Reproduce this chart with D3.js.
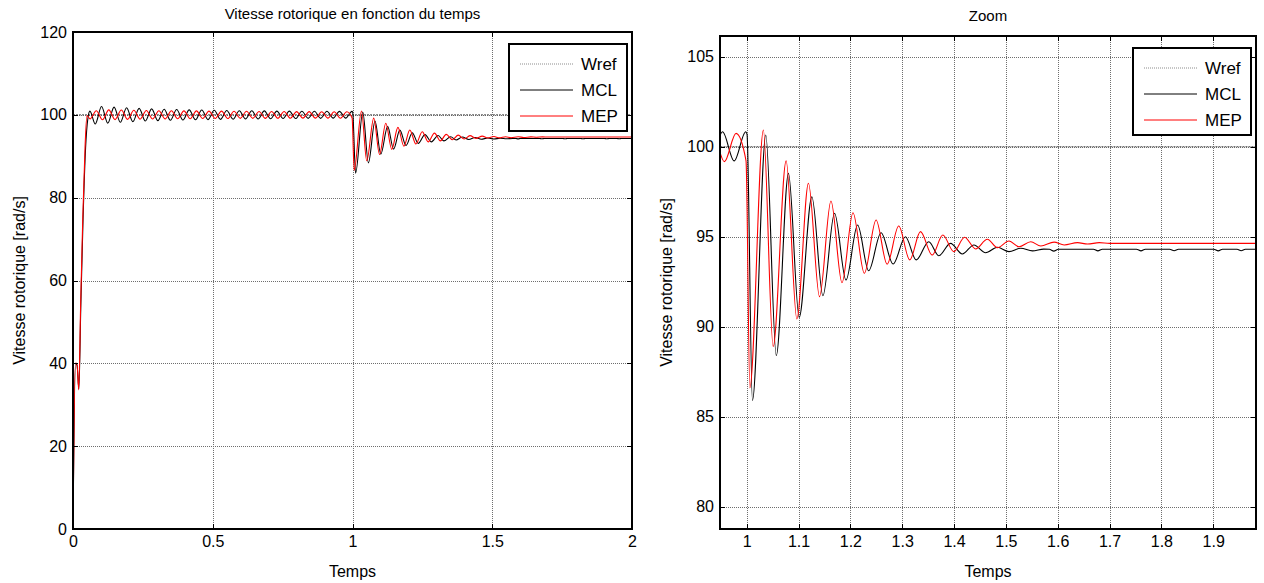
<!DOCTYPE html>
<html>
<head>
<meta charset="utf-8">
<script src="https://cdnjs.cloudflare.com/ajax/libs/d3/7.8.5/d3.min.js"></script>
<style>
	body { margin: 0; background: #fff; }
	text { font-family: "Liberation Sans", Arial, sans-serif; }
</style>
</head>
<body>
<script>

// series, [time, speed]
var wref = [[0, 100], [2, 100]];

var mcl = [
	[0, 0], [0.009, 40], [0.0145, 39.5], [0.021, 33.8], [0.028, 54], [0.036, 75], [0.045, 92], [0.053, 99], [0.0605, 100.9],
	[0.0797, 97.8], [0.1021, 102.0], [0.1245, 98.0], [0.1469, 101.85], [0.1693, 98.2], [0.1917, 101.7], [0.2141, 98.35],
	[0.2365, 101.55], [0.2589, 98.5], [0.2813, 101.45], [0.3037, 98.6], [0.3261, 101.35], [0.3485, 98.7], [0.3709, 101.3],
	[0.3933, 98.75], [0.4157, 101.2], [0.4381, 98.8], [0.4605, 101.15], [0.4829, 98.85], [0.5053, 101.1], [0.5277, 98.9],
	[0.5501, 101.05], [0.5725, 98.95], [0.5949, 101.0], [0.6173, 99.0], [0.6397, 101.0], [0.6621, 99.0], [0.6845, 100.95],
	[0.7069, 99.05], [0.7293, 100.9], [0.7517, 99.1], [0.7741, 100.9], [0.7965, 99.1], [0.8189, 100.85], [0.8413, 99.15],
	[0.8637, 100.85], [0.8861, 99.15], [0.9085, 100.85], [0.9309, 99.2], [0.9533, 100.83], [0.9757, 99.21], [0.9981, 100.83],
	[1.0005, 100.7], [1.011, 85.9], [1.0368, 100.65], [1.057, 88.4], [1.0805, 98.52], [1.1012, 90.52], [1.1257, 97.22],
	[1.147, 91.72], [1.1694, 96.3], [1.1915, 92.59], [1.2139, 95.65], [1.2352, 93.11], [1.2592, 95.22], [1.2824, 93.48],
	[1.3062, 95.0], [1.3269, 93.71], [1.3513, 94.72], [1.3706, 93.94], [1.3932, 94.63], [1.4159, 94.04], [1.4383, 94.54],
	[1.4609, 94.11], [1.4836, 94.41], [1.506, 94.17], [1.5286, 94.36], [1.5513, 94.21], [1.573, 94.31],
	[1.584, 94.3], [1.5925, 94.2], [1.601, 94.3], [1.669, 94.3], [1.6776, 94.21], [1.686, 94.3],
	[1.752, 94.3], [1.7607, 94.21], [1.769, 94.3], [1.816, 94.3], [1.8246, 94.22], [1.833, 94.3],
	[1.901, 94.3], [1.9097, 94.21], [1.918, 94.3], [1.946, 94.3], [1.954, 94.22], [1.962, 94.3], [2, 94.3]
];

var mep = [
	[0, 0], [0.0085, 40], [0.0143, 40], [0.0204, 33.6], [0.0276, 55], [0.035, 75], [0.043, 92], [0.05, 99.8], [0.061, 99.0],
	[0.0833, 101.0], [0.1057, 98.8], [0.1281, 101.2], [0.1505, 98.85], [0.1729, 101.15], [0.1953, 98.9], [0.2177, 101.1],
	[0.2401, 98.95], [0.2625, 101.05], [0.2849, 99.0], [0.3073, 101.0], [0.3297, 99.0], [0.3521, 101.0], [0.3745, 99.05],
	[0.3969, 100.95], [0.4193, 99.05], [0.4417, 100.95], [0.4641, 99.1], [0.4865, 100.9], [0.5089, 99.1], [0.5313, 100.9],
	[0.5537, 99.1], [0.5761, 100.85], [0.5985, 99.15], [0.6209, 100.85], [0.6433, 99.15], [0.6657, 100.8], [0.6881, 99.15],
	[0.7105, 100.8], [0.7329, 99.18], [0.7553, 100.8], [0.7777, 99.18], [0.8001, 100.78], [0.8225, 99.2], [0.8449, 100.78],
	[0.8673, 99.2], [0.8897, 100.75], [0.9121, 99.2], [0.9345, 100.75], [0.9569, 99.17], [0.9793, 100.74], [0.9986, 99.22],
	[1.006, 86.6], [1.0321, 100.93], [1.051, 88.9], [1.076, 99.21], [1.0967, 90.43], [1.1191, 97.97], [1.1404, 91.67],
	[1.1625, 96.98], [1.1838, 92.44], [1.205, 96.33], [1.2269, 92.97], [1.2495, 95.93], [1.2708, 93.47], [1.2932, 95.59],
	[1.3145, 93.71], [1.3352, 95.28], [1.3578, 93.98], [1.3783, 95.09], [1.3996, 94.17], [1.4203, 94.97], [1.4416, 94.32],
	[1.4642, 94.86], [1.4836, 94.39], [1.506, 94.76], [1.5253, 94.44], [1.548, 94.72], [1.5673, 94.48], [1.593, 94.7],
	[1.6124, 94.54], [1.6383, 94.67], [1.6576, 94.59], [1.68, 94.67], [1.70, 94.63], [2, 94.63]
];

var seriesNames = ["Wref", "MCL", "MEP"];
var seriesColors = ["#8c8c8c", "#000000", "#ff0000"];

// ticks
var xTicksMain = [0, 0.5, 1, 1.5, 2];
var yTicksMain = [0, 20, 40, 60, 80, 100, 120];
var xTicksZoom = [1, 1.1, 1.2, 1.3, 1.4, 1.5, 1.6, 1.7, 1.8, 1.9];
var yTicksZoom = [80, 85, 90, 95, 100, 105];

var w = 1264;
var h = 583;

var svg = d3.select("body")
			.append("svg")
			.attr("width", w)
			.attr("height", h);

svg.append("rect").attr("width", w).attr("height", h).attr("fill", "#fff");

function panel(p) {

	var x = d3.scaleLinear().domain(p.xDom).range([p.left, p.right]);
	var y = d3.scaleLinear().domain(p.yDom).range([p.bottom, p.top]);
	var fw = p.right - p.left, fh = p.bottom - p.top;

	var g = svg.append("g");

	g.append("clipPath").attr("id", p.id)
		.append("rect")
		.attr("x", p.left).attr("y", p.top)
		.attr("width", fw).attr("height", fh);

	// grid
	g.append("g")
		.attr("transform", "translate(0," + p.bottom + ")")
		.call(d3.axisBottom(x).tickValues(p.xTicks).tickSize(-fh).tickFormat(""))
		.call(function(s) { s.select(".domain").remove(); })
		.selectAll("line")
		.attr("stroke", "#6e6e6e")
		.attr("stroke-dasharray", "1,1")
		.attr("shape-rendering", "crispEdges");

	g.append("g")
		.attr("transform", "translate(" + p.left + ",0)")
		.call(d3.axisLeft(y).tickValues(p.yTicks).tickSize(-fw).tickFormat(""))
		.call(function(s) { s.select(".domain").remove(); })
		.selectAll("line")
		.attr("stroke", "#6e6e6e")
		.attr("stroke-dasharray", "1,1")
		.attr("shape-rendering", "crispEdges");

	// lines
	var line = d3.line()
		.x(function(d) { return x(d[0]); })
		.y(function(d) { return y(d[1]); })
		.curve(d3.curveMonotoneX);

	var lines = g.append("g").attr("clip-path", "url(#" + p.id + ")");

	lines.append("path").datum(wref)
		.attr("d", line).attr("fill", "none")
		.attr("stroke", "#555").attr("stroke-width", 1)
		.attr("stroke-dasharray", "2,1");
	lines.append("path").datum(mcl)
		.attr("d", line).attr("fill", "none")
		.attr("stroke", seriesColors[1]).attr("stroke-width", 1.1);
	lines.append("path").datum(mep)
		.attr("d", line).attr("fill", "none")
		.attr("stroke", seriesColors[2]).attr("stroke-width", 1.1);

	// axes, inward ticks on the 4 sides
	function styleAxis(s) {
		s.select(".domain").remove();
		s.selectAll("line").attr("stroke", "#000").attr("shape-rendering", "crispEdges");
		s.selectAll("text").attr("font-family", "Liberation Sans, Arial, sans-serif")
			.attr("font-size", "16px").attr("fill", "#000");
	}

	g.append("g")
		.attr("transform", "translate(0," + p.bottom + ")")
		.call(d3.axisBottom(x).tickValues(p.xTicks).tickSizeInner(-5).tickSizeOuter(0).tickPadding(7).tickFormat(d3.format("")))
		.call(styleAxis);
	g.append("g")
		.attr("transform", "translate(0," + p.top + ")")
		.call(d3.axisTop(x).tickValues(p.xTicks).tickSizeInner(-5).tickSizeOuter(0).tickFormat(""))
		.call(styleAxis);
	g.append("g")
		.attr("transform", "translate(" + p.left + ",0)")
		.call(d3.axisLeft(y).tickValues(p.yTicks).tickSizeInner(-5).tickSizeOuter(0).tickPadding(6).tickFormat(d3.format("")))
		.call(styleAxis);
	g.append("g")
		.attr("transform", "translate(" + p.right + ",0)")
		.call(d3.axisRight(y).tickValues(p.yTicks).tickSizeInner(-5).tickSizeOuter(0).tickFormat(""))
		.call(styleAxis);

	g.append("rect")
		.attr("x", p.left).attr("y", p.top)
		.attr("width", fw).attr("height", fh)
		.attr("fill", "none").attr("stroke", "#000").attr("stroke-width", 1.3)
		.attr("shape-rendering", "crispEdges");

	// titles
	g.append("text")
		.attr("x", (p.left + p.right) / 2).attr("y", p.titleY)
		.attr("text-anchor", "middle").attr("font-size", "15px")
		.text(p.title);
	g.append("text")
		.attr("x", (p.left + p.right) / 2).attr("y", 577)
		.attr("text-anchor", "middle").attr("font-size", "16px")
		.text("Temps");
	g.append("text")
		.attr("transform", "translate(" + p.ylabX + "," + (p.top + p.bottom) / 2 + ") rotate(-90)")
		.attr("text-anchor", "middle").attr("font-size", "16px")
		.text("Vitesse rotorique [rad/s]");

	// legend
	var lx = p.right - 123, ly = p.top + 12;
	var lg = g.append("g");
	lg.append("rect")
		.attr("x", lx).attr("y", ly).attr("width", 118).attr("height", 87)
		.attr("fill", "#fff").attr("stroke", "#000").attr("stroke-width", 1.2)
		.attr("shape-rendering", "crispEdges");
	seriesNames.forEach(function(name, i) {
		var yy = ly + 20 + i * 26;
		lg.append("line")
			.attr("x1", lx + 11).attr("x2", lx + 64)
			.attr("y1", yy).attr("y2", yy)
			.attr("stroke", seriesColors[i])
			.attr("stroke-dasharray", i === 0 ? "1,1" : null);
		lg.append("text")
			.attr("x", lx + 72).attr("y", yy + 6)
			.attr("font-size", "17px")
			.text(name);
	});
}

panel({
	id: "clipMain", left: 73, right: 632, top: 32, bottom: 529,
	xDom: [0, 2], yDom: [0, 120],
	xTicks: xTicksMain, yTicks: yTicksMain,
	title: "Vitesse rotorique en fonction du temps", titleY: 19, ylabX: 25
});

panel({
	id: "clipZoom", left: 720, right: 1256, top: 36, bottom: 529,
	xDom: [0.9484, 1.9826], yDom: [78.76, 106.15],
	xTicks: xTicksZoom, yTicks: yTicksZoom,
	title: "Zoom", titleY: 21, ylabX: 672
});

</script>
</body>
</html>
